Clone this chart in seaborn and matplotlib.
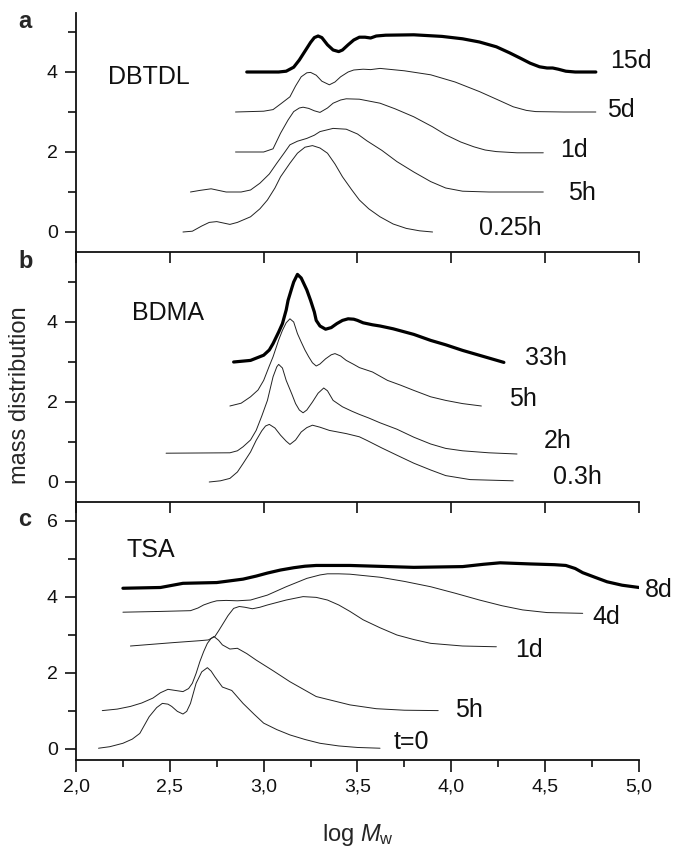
import matplotlib
matplotlib.use("Agg")
import matplotlib.pyplot as plt
import seaborn as sns
import pandas as pd
from matplotlib.ticker import MultipleLocator, FixedLocator, FuncFormatter

# ---------------- data ----------------
# Panel a: DBTDL
a_15d_x = [2.91, 3.00, 3.08, 3.12, 3.16, 3.19, 3.22, 3.25, 3.27, 3.29, 3.31, 3.34, 3.37, 3.40, 3.42, 3.45, 3.48, 3.51, 3.54, 3.57, 3.60, 3.65, 3.80, 3.95, 4.06, 4.15, 4.24, 4.31, 4.37, 4.42, 4.47, 4.51, 4.54, 4.57, 4.61, 4.66, 4.77]
a_15d_y = [4.00, 4.00, 4.00, 4.02, 4.12, 4.30, 4.52, 4.74, 4.86, 4.90, 4.86, 4.68, 4.55, 4.51, 4.55, 4.68, 4.80, 4.87, 4.87, 4.85, 4.90, 4.92, 4.93, 4.89, 4.83, 4.75, 4.63, 4.48, 4.34, 4.22, 4.13, 4.10, 4.10, 4.07, 4.02, 4.00, 4.00]
a_5d_x = [2.85, 3.00, 3.05, 3.09, 3.14, 3.17, 3.20, 3.23, 3.25, 3.28, 3.31, 3.35, 3.38, 3.41, 3.45, 3.48, 3.53, 3.57, 3.62, 3.75, 3.89, 4.02, 4.15, 4.25, 4.33, 4.40, 4.45, 4.60, 4.77]
a_5d_y = [3.00, 3.02, 3.06, 3.20, 3.38, 3.65, 3.88, 3.98, 3.99, 3.92, 3.77, 3.68, 3.75, 3.88, 4.00, 4.05, 4.07, 4.06, 4.09, 4.03, 3.93, 3.75, 3.51, 3.30, 3.13, 3.04, 3.01, 3.00, 3.00]
a_1d_x = [2.85, 3.00, 3.05, 3.09, 3.13, 3.16, 3.19, 3.21, 3.24, 3.27, 3.30, 3.34, 3.37, 3.41, 3.44, 3.51, 3.62, 3.70, 3.80, 3.90, 3.97, 4.05, 4.12, 4.18, 4.24, 4.35, 4.49]
a_1d_y = [2.00, 2.00, 2.08, 2.47, 2.80, 3.01, 3.10, 3.12, 3.09, 3.03, 2.99, 3.10, 3.22, 3.30, 3.33, 3.32, 3.22, 3.08, 2.88, 2.63, 2.43, 2.25, 2.13, 2.05, 2.01, 1.98, 1.98]
a_5h_x = [2.61, 2.66, 2.72, 2.77, 2.80, 2.88, 2.93, 2.98, 3.03, 3.07, 3.11, 3.14, 3.18, 3.23, 3.27, 3.30, 3.37, 3.44, 3.50, 3.55, 3.63, 3.71, 3.80, 3.89, 3.97, 4.06, 4.20, 4.49]
a_5h_y = [1.00, 1.04, 1.08, 1.03, 1.00, 1.00, 1.05, 1.22, 1.45, 1.72, 1.98, 2.18, 2.27, 2.34, 2.42, 2.51, 2.59, 2.57, 2.45, 2.28, 2.04, 1.76, 1.50, 1.26, 1.10, 1.02, 1.00, 1.00]
a_025h_x = [2.57, 2.62, 2.67, 2.71, 2.75, 2.79, 2.82, 2.86, 2.90, 2.93, 2.98, 3.02, 3.06, 3.09, 3.14, 3.18, 3.22, 3.26, 3.30, 3.34, 3.38, 3.42, 3.47, 3.51, 3.56, 3.62, 3.69, 3.76, 3.83, 3.90]
a_025h_y = [0.00, 0.02, 0.15, 0.24, 0.26, 0.22, 0.19, 0.24, 0.32, 0.38, 0.58, 0.80, 1.10, 1.38, 1.72, 1.97, 2.12, 2.16, 2.10, 1.97, 1.70, 1.38, 1.05, 0.80, 0.58, 0.38, 0.20, 0.09, 0.03, 0.00]

# Panel b: BDMA
b_33h_x = [2.84, 2.93, 3.00, 3.03, 3.05, 3.08, 3.10, 3.12, 3.13, 3.15, 3.16, 3.18, 3.20, 3.21, 3.23, 3.25, 3.27, 3.28, 3.30, 3.33, 3.36, 3.39, 3.42, 3.45, 3.48, 3.50, 3.53, 3.58, 3.62, 3.69, 3.80, 3.89, 3.97, 4.06, 4.17, 4.28]
b_33h_y = [3.00, 3.04, 3.17, 3.30, 3.46, 3.75, 3.96, 4.30, 4.54, 4.85, 5.00, 5.19, 5.10, 5.00, 4.80, 4.54, 4.25, 4.04, 3.90, 3.82, 3.86, 3.96, 4.04, 4.08, 4.07, 4.04, 3.98, 3.93, 3.90, 3.83, 3.69, 3.54, 3.43, 3.29, 3.14, 2.99]
b_5h_x = [2.82, 2.88, 2.93, 2.97, 3.00, 3.03, 3.05, 3.08, 3.10, 3.12, 3.14, 3.16, 3.18, 3.20, 3.22, 3.24, 3.26, 3.28, 3.30, 3.33, 3.36, 3.38, 3.41, 3.44, 3.48, 3.51, 3.58, 3.66, 3.73, 3.80, 3.89, 3.97, 4.06, 4.16]
b_5h_y = [1.90, 1.97, 2.13, 2.30, 2.54, 2.90, 3.13, 3.55, 3.79, 3.98, 4.08, 4.00, 3.71, 3.50, 3.30, 3.13, 2.98, 2.90, 2.95, 3.08, 3.18, 3.21, 3.15, 3.04, 2.94, 2.86, 2.75, 2.54, 2.42, 2.29, 2.13, 2.04, 1.96, 1.90]
b_2h_x = [2.48, 2.82, 2.86, 2.89, 2.93, 2.96, 2.99, 3.02, 3.05, 3.07, 3.08, 3.10, 3.12, 3.15, 3.17, 3.19, 3.21, 3.23, 3.26, 3.29, 3.32, 3.34, 3.37, 3.42, 3.47, 3.51, 3.56, 3.62, 3.71, 3.80, 3.89, 3.97, 4.06, 4.20, 4.35]
b_2h_y = [0.72, 0.73, 0.78, 0.88, 1.05, 1.29, 1.65, 2.04, 2.63, 2.88, 2.94, 2.85, 2.54, 2.20, 1.96, 1.80, 1.73, 1.80, 2.00, 2.22, 2.35, 2.28, 2.04, 1.88, 1.77, 1.69, 1.60, 1.48, 1.32, 1.12, 0.95, 0.84, 0.78, 0.73, 0.70]
b_03h_x = [2.71, 2.77, 2.82, 2.86, 2.89, 2.93, 2.96, 2.99, 3.01, 3.03, 3.06, 3.09, 3.12, 3.14, 3.17, 3.20, 3.23, 3.26, 3.30, 3.35, 3.44, 3.51, 3.55, 3.63, 3.71, 3.80, 3.89, 3.97, 4.10, 4.33]
b_03h_y = [0.00, 0.03, 0.09, 0.25, 0.46, 0.75, 1.04, 1.28, 1.40, 1.44, 1.35, 1.17, 1.02, 0.94, 1.05, 1.25, 1.36, 1.42, 1.37, 1.29, 1.21, 1.13, 1.04, 0.85, 0.67, 0.47, 0.30, 0.16, 0.06, 0.03]

# Panel c: TSA
c_8d_x = [2.25, 2.45, 2.57, 2.75, 2.89, 2.96, 3.02, 3.09, 3.16, 3.22, 3.28, 3.46, 3.80, 4.06, 4.17, 4.26, 4.42, 4.55, 4.61, 4.66, 4.70, 4.77, 4.83, 4.91, 5.00]
c_8d_y = [4.22, 4.24, 4.35, 4.37, 4.46, 4.54, 4.62, 4.70, 4.76, 4.80, 4.82, 4.82, 4.77, 4.79, 4.85, 4.89, 4.86, 4.84, 4.82, 4.74, 4.63, 4.50, 4.39, 4.30, 4.24]
c_4d_x = [2.25, 2.45, 2.61, 2.65, 2.68, 2.72, 2.75, 2.80, 2.86, 2.93, 3.02, 3.12, 3.23, 3.30, 3.34, 3.40, 3.46, 3.62, 3.75, 3.89, 4.02, 4.15, 4.27, 4.38, 4.51, 4.70]
c_4d_y = [3.59, 3.61, 3.63, 3.70, 3.78, 3.85, 3.89, 3.90, 3.89, 3.91, 4.04, 4.26, 4.48, 4.57, 4.60, 4.60, 4.59, 4.51, 4.40, 4.26, 4.09, 3.91, 3.76, 3.65, 3.58, 3.56]
c_1d_x = [2.29, 2.52, 2.66, 2.705, 2.74, 2.76, 2.785, 2.81, 2.84, 2.87, 2.90, 2.94, 2.98, 3.02, 3.12, 3.21, 3.28, 3.34, 3.40, 3.46, 3.53, 3.62, 3.71, 3.80, 3.89, 4.06, 4.24]
c_1d_y = [2.70, 2.79, 2.84, 2.86, 2.95, 3.10, 3.30, 3.50, 3.69, 3.74, 3.72, 3.68, 3.72, 3.78, 3.91, 4.00, 3.98, 3.91, 3.78, 3.61, 3.39, 3.18, 2.99, 2.87, 2.77, 2.70, 2.68]
c_5h_x = [2.14, 2.22, 2.29, 2.35, 2.41, 2.45, 2.49, 2.53, 2.57, 2.60, 2.62, 2.64, 2.66, 2.68, 2.70, 2.72, 2.735, 2.76, 2.78, 2.82, 2.86, 2.91, 2.96, 3.05, 3.14, 3.28, 3.46, 3.60, 3.75, 3.93]
c_5h_y = [1.00, 1.04, 1.11, 1.20, 1.33, 1.47, 1.56, 1.53, 1.50, 1.58, 1.72, 1.98, 2.29, 2.55, 2.77, 2.90, 2.95, 2.85, 2.73, 2.62, 2.64, 2.50, 2.33, 2.05, 1.76, 1.37, 1.15, 1.05, 1.01, 1.00]
c_t0_x = [2.12, 2.18, 2.25, 2.30, 2.34, 2.39, 2.43, 2.46, 2.49, 2.51, 2.54, 2.57, 2.59, 2.61, 2.64, 2.67, 2.70, 2.72, 2.74, 2.78, 2.83, 2.89, 2.95, 3.00, 3.07, 3.14, 3.22, 3.30, 3.40, 3.50, 3.62]
c_t0_y = [0.01, 0.05, 0.14, 0.25, 0.40, 0.84, 1.08, 1.19, 1.17, 1.11, 0.98, 0.91, 0.98, 1.19, 1.72, 2.02, 2.13, 2.04, 1.89, 1.62, 1.53, 1.19, 0.90, 0.67, 0.50, 0.36, 0.24, 0.14, 0.07, 0.03, 0.01]

panel_letters = ["a", "b", "c"]
catalysts = ["DBTDL", "BDMA", "TSA"]
a_labels = ["15d", "5d", "1d", "5h", "0.25h"]
b_labels = ["33h", "5h", "2h", "0.3h"]
c_labels = ["8d", "4d", "1d", "5h", "t=0"]
x_ticks = [2.0, 2.5, 3.0, 3.5, 4.0, 4.5, 5.0]
a_yticks = [0, 2, 4]
b_yticks = [0, 2, 4]
c_yticks = [0, 2, 4, 6]

# ---------------- style ----------------
sns.set_style("ticks")
plt.rcParams["font.family"] = ["Liberation Sans", "DejaVu Sans"]
plt.rcParams["mathtext.fontset"] = "custom"
plt.rcParams["mathtext.rm"] = "Liberation Sans"
plt.rcParams["mathtext.it"] = "Liberation Sans:italic"
plt.rcParams["axes.edgecolor"] = "#111111"
plt.rcParams["axes.linewidth"] = 1.3

W, H = 676, 849
fig = plt.figure(figsize=(W / 100, H / 100), dpi=100)
fig.patch.set_facecolor("white")

def add_axes(top, bottom):
    return fig.add_axes([76 / W, 1 - bottom / H, (639 - 76) / W, (bottom - top) / H])

ax_a = add_axes(13, 252)
ax_b = add_axes(252, 502)
ax_c = add_axes(502, 760)

THIN = dict(color="#222222", linewidth=0.7)
THICK = dict(color="black", linewidth=2.3)

def draw(ax, xs, ys, thick=False):
    df = pd.DataFrame({"x": xs, "y": ys})
    sns.lineplot(data=df, x="x", y="y", ax=ax, estimator=None, sort=False,
                 **(THICK if thick else THIN))

series_a = [(a_15d_x, a_15d_y), (a_5d_x, a_5d_y), (a_1d_x, a_1d_y), (a_5h_x, a_5h_y), (a_025h_x, a_025h_y)]
series_b = [(b_33h_x, b_33h_y), (b_5h_x, b_5h_y), (b_2h_x, b_2h_y), (b_03h_x, b_03h_y)]
series_c = [(c_8d_x, c_8d_y), (c_4d_x, c_4d_y), (c_1d_x, c_1d_y), (c_5h_x, c_5h_y), (c_t0_x, c_t0_y)]

for ax, series in [(ax_a, series_a), (ax_b, series_b), (ax_c, series_c)]:
    for i, (xs, ys) in enumerate(series):
        draw(ax, xs, ys, thick=(i == 0))

# curve labels (data coordinates)
LBL = 18
a_pos = [(4.845, 4.27), (4.83, 3.05), (4.58, 2.05), (4.62, 0.97), (4.15, 0.10)]
b_pos = [(4.39, 3.09), (4.31, 2.07), (4.49, 1.03), (4.54, 0.13)]
c_pos = [(5.03, 4.18), (4.75, 3.47), (4.34, 2.60), (4.02, 1.02), (3.69, 0.18)]
for ax, labels, pos in [(ax_a, a_labels, a_pos), (ax_b, b_labels, b_pos), (ax_c, c_labels, c_pos)]:
    for t, (x, y) in zip(labels, pos):
        ax.text(x, y, t, fontsize=LBL, ha="left", va="center", clip_on=False, color="#111111")

ax_a.text(2.17, 3.87, catalysts[0], fontsize=LBL, ha="left", va="center", color="#111111")
ax_b.text(2.30, 4.22, catalysts[1], fontsize=LBL, ha="left", va="center", color="#111111")
ax_c.text(2.27, 5.23, catalysts[2], fontsize=LBL, ha="left", va="center", color="#111111")

# axes formatting
comma = FuncFormatter(lambda v, p: f"{v:.1f}".replace(".", ","))
for ax, yl, yt in [(ax_a, (-0.5, 5.475), a_yticks), (ax_b, (-0.5, 5.75), b_yticks), (ax_c, (-0.3, 6.49), c_yticks)]:
    ax.set_xlim(2.0, 5.0)
    ax.set_ylim(*yl)
    ax.set_xlabel("")
    ax.set_ylabel("")
    ax.spines["top"].set_visible(False)
    ax.spines["right"].set_visible(False)
    ax.set_facecolor("none")
    ax.yaxis.set_major_locator(FixedLocator(yt))
    ax.yaxis.set_minor_locator(FixedLocator([1, 3, 5]))
    ax.tick_params(axis="y", which="major", direction="out", length=8, width=1.2,
                   labelsize=14, pad=5, colors="#111111")
    ax.tick_params(axis="y", which="minor", direction="out", length=5.5, width=1.2, colors="#111111")
    ax.xaxis.set_major_locator(FixedLocator(x_ticks))
    ax.xaxis.set_major_formatter(comma)

for ax in (ax_a, ax_b):
    ax.tick_params(axis="x", which="major", direction="out", length=8, width=1.2,
                   labelbottom=False, colors="#111111")
    ax.tick_params(axis="x", which="minor", bottom=False)

ax_c.xaxis.set_minor_locator(MultipleLocator(0.25))
ax_c.tick_params(axis="x", which="major", direction="out", length=8.5, width=1.2,
                 labelsize=14, pad=5, colors="#111111")
ax_c.tick_params(axis="x", which="minor", direction="out", length=5, width=1.2, colors="#111111")

# figure-level texts (pixel positions)
def fx(px):
    return px / W

def fy(py):
    return 1 - py / H

for letter, (px, py) in zip(panel_letters, [(18, 21), (18, 262), (18, 520)]):
    fig.text(fx(px), fy(py), letter, fontsize=17, fontweight="bold", ha="left", va="center")

fig.text(fx(20), fy(395), "mass distribution", rotation=90, fontsize=17, ha="center", va="center")
fig.text(fx(358), fy(841), r"log $M_{\mathrm{w}}$", fontsize=17, ha="center", va="baseline")

fig.savefig("out.png", dpi=100)
